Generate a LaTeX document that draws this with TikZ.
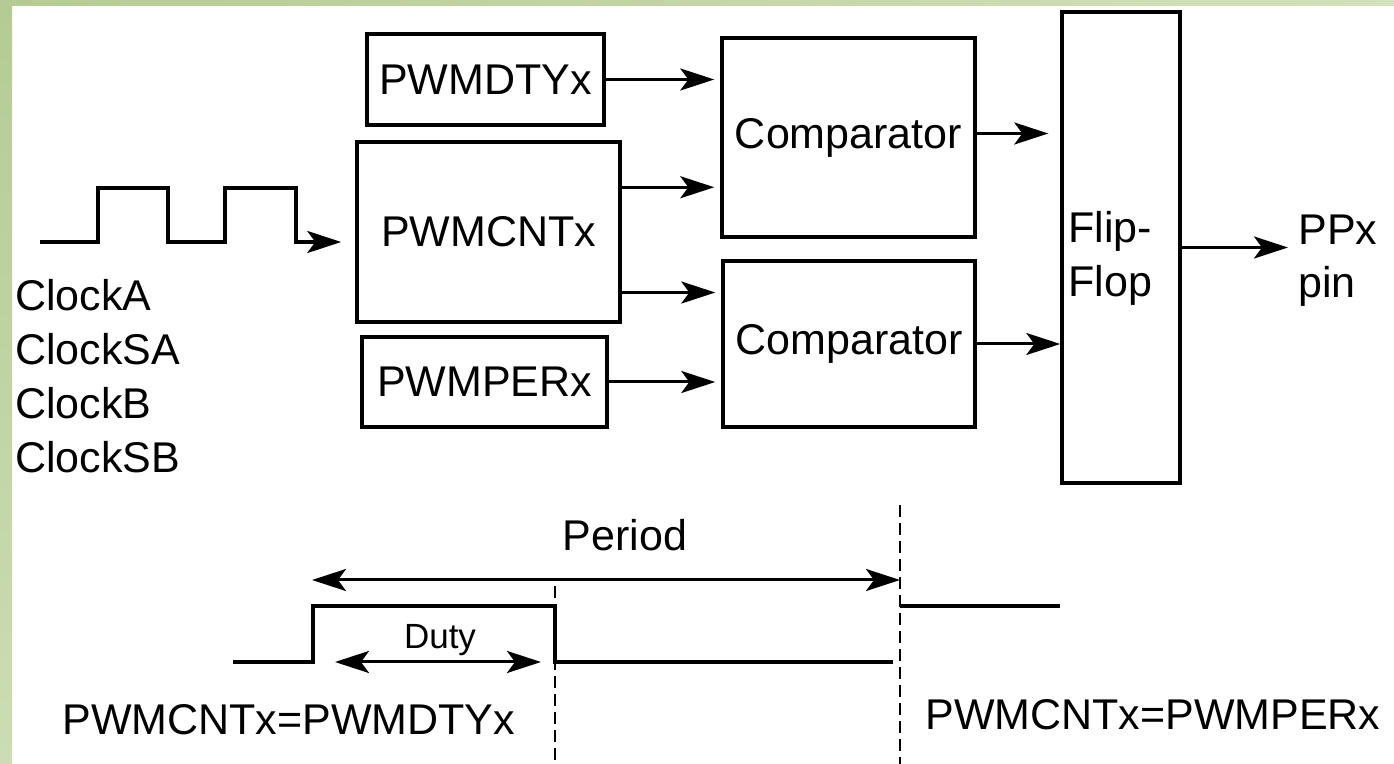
\documentclass[tikz,border=0pt]{standalone}
\usepackage{fontspec}
\setmainfont{Liberation Sans}
\usetikzlibrary{arrows.meta,calc}
\definecolor{bgA}{HTML}{B5CB93}
\definecolor{bgB}{HTML}{CCDDB3}
\definecolor{bgC}{HTML}{D3E1BC}
\tikzset{
  fnt/.style={font=\fontsize{21.5}{26}\selectfont},
  blk/.style={draw, line width=1.7pt, inner sep=0pt, fnt},
  lbl/.style={inner sep=0pt, fnt},
  tip/.tip={Stealth[length=17pt,width=11pt,inset=4pt]},
  arr/.style={line width=1.5pt, -tip},
  darr/.style={line width=1.5pt, tip-tip},
  sig/.style={line width=1.7pt},
  dsh/.style={line width=1.4pt, dash pattern=on 6pt off 3pt}
}
\begin{document}
\begin{tikzpicture}[x=0.5pt,y=-0.5pt]
\useasboundingbox (0,0) rectangle (1394,764);
% background
\fill[white] (0,0) rectangle (1394,764);
\shade[top color=bgA, bottom color=bgB] (0,0) rectangle (12,764);
\shade[left color=bgA, right color=bgC] (0,0) rectangle (1394,6);

% blocks
\node[blk, minimum width=118.5pt, minimum height=45.5pt] (dty) at (485.5,79.5) {PWMDTYx};
\node[blk, minimum width=131.5pt, minimum height=90pt] (cnt) at (488.5,232) {PWMCNTx};
\node[blk, minimum width=122.5pt, minimum height=45pt] (per) at (484.5,382) {PWMPERx};
\node[blk, minimum width=126.5pt, minimum height=99.5pt] (cmp1) at (848.5,137.5) {Comparator};
\node[blk, minimum width=126pt, minimum height=83pt] (cmp2) at (849,344) {Comparator};
\node[draw, line width=1.7pt, inner sep=0pt, minimum width=59pt, minimum height=235.5pt] (ff) at (1121,247.5) {};
\node[lbl, anchor=base west] (flip) at (1068,243) {Flip-};
\node[lbl, anchor=base west] (flop) at (1068,297) {Flop};
\node[lbl, anchor=base west] (ppx) at (1298,245) {PPx};
\node[lbl, anchor=base west] (pin) at (1298,298) {pin};

% clock labels
\node[lbl, anchor=base west] (ca) at (15,311) {ClockA};
\node[lbl, anchor=base west] (csa) at (15,365) {ClockSA};
\node[lbl, anchor=base west] (cb) at (15,419) {ClockB};
\node[lbl, anchor=base west] (csb) at (15,473) {ClockSB};

% clock waveform
\coordinate (clk0) at (40,242);
\draw[arr, line width=1.8pt] (clk0) -- ++(58,0) -- ++(0,-54) -- ++(70,0) -- ++(0,54) -- ++(57,0) -- ++(0,-54) -- ++(71,0) -- ++(0,54) -- (clk0 -| cnt.west) [shorten >=7pt];

% connectors
\coordinate (c1) at ($(cnt.north east)!0.256!(cnt.south east)$);
\coordinate (c2) at ($(cnt.north east)!0.83!(cnt.south east)$);
\draw[arr, shorten >=3pt] (dty.east) -- (dty.east -| cmp1.west);
\draw[arr, shorten >=3pt] (c1) -- (c1 -| cmp1.west);
\draw[arr, shorten >=3pt] (c2) -- (c2 -| cmp2.west);
\draw[arr, shorten >=3pt] (per.east) -- (per.east -| cmp2.west);
\draw[arr, shorten >=6pt] ([yshift=2pt]cmp1.east) -- ([yshift=2pt]cmp1.east -| ff.west);
\draw[arr] (cmp2.east) -- (cmp2.east -| ff.west);
\draw[arr, shorten >=5pt] (ff.east) -- (ff.east -| ppx.west);

% timing diagram
\node[lbl] (period) [anchor=base] at (625,551) {Period};
\node[lbl, font=\fontsize{17.5}{21}\selectfont, anchor=base] (duty) at (440,649) {Duty};
\node[lbl, anchor=base west] (eq1) at (62,735) {PWMCNTx=PWMDTYx};
\node[lbl, anchor=base west] (eq2) at (925,730) {PWMCNTx=PWMPERx};

\coordinate (pa) at (312,580);
\coordinate (pb) at (900,580);
\draw[darr] (pa) -- (pb);
\coordinate (da) at (335,662);
\coordinate (db) at (541,662);
\draw[darr] (da) -- (db);

\coordinate (d1t) at (555,586);
\coordinate (d1b) at (555,764);
\coordinate (d2t) at (900,505);
\coordinate (d2b) at (900,764);
\draw[dsh] (d1t) -- (d1b);
\draw[dsh] (d2t) -- (d2b);

\coordinate (s0) at (233,662);
\draw[sig] (s0) -- (313,662) -- (313,606) -- (555,606) -- (555,662) -- (893,662);
\coordinate (h0) at (900,606);
\draw[sig] (h0) -- (1060,606);
\end{tikzpicture}
\end{document}
